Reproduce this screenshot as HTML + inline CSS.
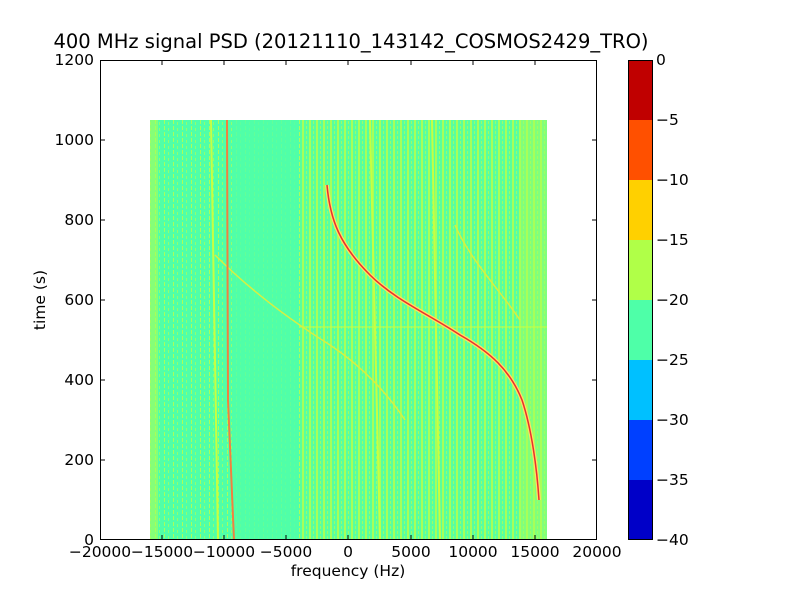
<!DOCTYPE html><html><head><style>
body{margin:0;background:#fff;width:800px;height:600px;overflow:hidden}
</style></head><body>
<svg width="800" height="600" xmlns="http://www.w3.org/2000/svg" font-family="DejaVu Sans, sans-serif">
<defs>
<pattern id="pL" width="9" height="6" patternUnits="userSpaceOnUse"><rect width="9" height="6" fill="#50ffa8"/><rect x="2" width="1" height="4" fill="#a8ff5a"/><rect x="6" y="2" width="1" height="3" fill="#90ff70"/></pattern>
<pattern id="pR" width="7" height="5" patternUnits="userSpaceOnUse"><rect width="7" height="5" fill="#58ffa0"/><rect x="1" width="2" height="5" fill="#a8ff58"/><rect x="5" y="1" width="1" height="3" fill="#98ff68"/></pattern>
</defs>
<text x="351" y="48" font-size="19.5" text-anchor="middle">400 MHz signal PSD (20121110_143142_COSMOS2429_TRO)</text>
<rect x="150" y="120" width="397" height="420" fill="url(#pL)"/>
<rect x="300" y="120" width="225" height="420" fill="url(#pR)"/>
<rect x="150" y="120" width="8" height="420" fill="#a8ff58" opacity=".6"/>
<rect x="520" y="120" width="27" height="420" fill="url(#pR)"/>
<rect x="520" y="120" width="27" height="420" fill="#a8ff58" opacity=".5"/>
<rect x="233" y="120" width="65" height="420" fill="#50ffa8" opacity=".8"/>
<line x1="211" y1="120" x2="218" y2="540" stroke="#c8ff40" stroke-width="2"/>
<line x1="432" y1="120" x2="440" y2="540" stroke="#c8ff40" stroke-width="2"/>
<line x1="370" y1="120" x2="380" y2="540" stroke="#c8ff40" stroke-width="2"/>
<line x1="300" y1="327" x2="547" y2="327" stroke="#c8ff40" stroke-width="1"/>
<path d="M215,255 C250,290 290,320 330,345 C360,365 385,390 405,420" fill="none" stroke="#d8f040" stroke-width="1.5"/>
<path d="M455,225 C470,260 500,290 520,320" fill="none" stroke="#d8f040" stroke-width="1.5"/>
<path d="M227,120 L228,400 L234,540" fill="none" stroke="#f08040" stroke-width="2"/>
<path d="M327,185 C330,220 340,245 370,275 C395,300 430,315 460,335 C490,352 510,370 522,400 C532,430 537,470 539,500" fill="none" stroke="#ffe060" stroke-width="4"/>
<path d="M327,185 C330,220 340,245 370,275 C395,300 430,315 460,335 C490,352 510,370 522,400 C532,430 537,470 539,500" fill="none" stroke="#e83030" stroke-width="1.5"/>
<rect x="100.5" y="60.5" width="496" height="479" fill="none" stroke="#000"/>
<g stroke="#000">
<line x1="162" y1="540" x2="162" y2="535"/><line x1="224" y1="540" x2="224" y2="535"/><line x1="286" y1="540" x2="286" y2="535"/><line x1="348" y1="540" x2="348" y2="535"/><line x1="411" y1="540" x2="411" y2="535"/><line x1="473" y1="540" x2="473" y2="535"/><line x1="535" y1="540" x2="535" y2="535"/>
<line x1="162" y1="60" x2="162" y2="65"/><line x1="224" y1="60" x2="224" y2="65"/><line x1="286" y1="60" x2="286" y2="65"/><line x1="348" y1="60" x2="348" y2="65"/><line x1="411" y1="60" x2="411" y2="65"/><line x1="473" y1="60" x2="473" y2="65"/><line x1="535" y1="60" x2="535" y2="65"/>
<line x1="100" y1="460" x2="105" y2="460"/><line x1="100" y1="380" x2="105" y2="380"/><line x1="100" y1="300" x2="105" y2="300"/><line x1="100" y1="220" x2="105" y2="220"/><line x1="100" y1="140" x2="105" y2="140"/>
<line x1="597" y1="460" x2="592" y2="460"/><line x1="597" y1="380" x2="592" y2="380"/><line x1="597" y1="300" x2="592" y2="300"/><line x1="597" y1="220" x2="592" y2="220"/><line x1="597" y1="140" x2="592" y2="140"/>
</g>
<g font-size="15.5" text-anchor="middle">
<text x="100" y="557">−20000</text><text x="162" y="557">−15000</text><text x="224" y="557">−10000</text><text x="286" y="557">−5000</text><text x="348" y="557">0</text><text x="411" y="557">5000</text><text x="473" y="557">10000</text><text x="535" y="557">15000</text><text x="597" y="557">20000</text>
<text x="348" y="576">frequency (Hz)</text>
</g>
<g font-size="15.5" text-anchor="end">
<text x="94" y="545">0</text><text x="94" y="465">200</text><text x="94" y="385">400</text><text x="94" y="305">600</text><text x="94" y="225">800</text><text x="94" y="145">1000</text><text x="94" y="65">1200</text>
</g>
<text transform="translate(45,300) rotate(-90)" font-size="15.5" text-anchor="middle">time (s)</text>
<rect x="628" y="60" width="24" height="60" fill="#c00000"/>
<rect x="628" y="120" width="24" height="60" fill="#ff5000"/>
<rect x="628" y="180" width="24" height="60" fill="#ffd000"/>
<rect x="628" y="240" width="24" height="60" fill="#b0ff48"/>
<rect x="628" y="300" width="24" height="60" fill="#4effa8"/>
<rect x="628" y="360" width="24" height="60" fill="#00c0ff"/>
<rect x="628" y="420" width="24" height="60" fill="#0040ff"/>
<rect x="628" y="480" width="24" height="60" fill="#0000c8"/>
<rect x="628.5" y="60.5" width="24" height="479" fill="none" stroke="#000"/>
<g font-size="15.5">
<text x="656" y="65">0</text><text x="656" y="125">−5</text><text x="656" y="185">−10</text><text x="656" y="245">−15</text><text x="656" y="305">−20</text><text x="656" y="365">−25</text><text x="656" y="425">−30</text><text x="656" y="485">−35</text><text x="656" y="545">−40</text>
</g>
</svg>
</body></html>
